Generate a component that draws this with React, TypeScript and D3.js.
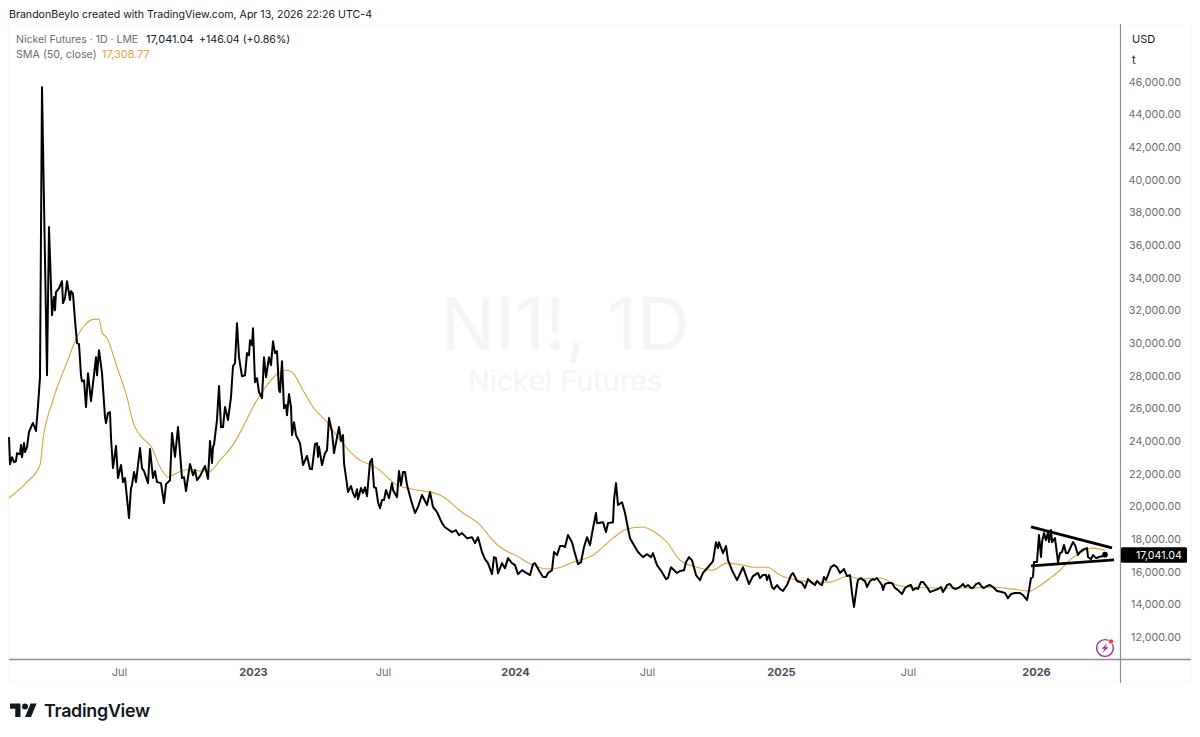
import { useEffect, useRef } from "react";
import * as d3 from "d3";

const WIDTH = 1200;
const HEIGHT = 737;

// x is the bar number (TradingView skips weekends, one session is about 1px here)
const closeBars = [
  0, 1, 3, 5, 7, 8, 11, 12, 13, 15, 16, 18, 20, 23, 24, 27, 29, 31, 33, 38, 40, 41, 43, 45, 46, 47, 50, 53, 54, 56, 58,
  61, 62, 64, 66, 68, 70, 72, 73, 75, 77, 79, 82, 87, 88, 90, 93, 96, 97, 99, 101, 102, 104, 107, 109, 112, 114, 116,
  120, 122, 123, 125, 127, 131, 133, 135, 139, 141, 144, 146, 148, 152, 155, 157, 161, 163, 166, 169, 173, 175, 177,
  181, 184, 186, 188, 191, 196, 199, 201, 203, 204, 205, 208, 210, 212, 214, 216, 219, 222, 224, 226, 228, 230, 233,
  236, 238, 240, 241, 243, 244, 246, 248, 250, 253, 255, 257, 260, 262, 264, 266, 268, 270, 271, 273, 275, 277, 278,
  280, 282, 283, 285, 287, 291, 294, 298, 301, 303, 306, 308, 309, 310, 313, 316, 318, 320, 323, 325, 330, 332, 334,
  335, 337, 339, 342, 344, 346, 348, 349, 352, 354, 356, 358, 361, 363, 365, 367, 369, 371, 373, 375, 377, 380, 383,
  384, 388, 390, 392, 394, 396, 398, 402, 406, 409, 413, 418, 421, 424, 428, 433, 436, 443, 447, 450, 453, 458, 463,
  466, 469, 473, 476, 479, 483, 485, 487, 489, 493, 496, 499, 503, 506, 509, 513, 516, 521, 524, 526, 531, 534, 537,
  539, 543, 545, 548, 551, 554, 556, 559, 563, 565, 569, 572, 575, 578, 581, 584, 587, 588, 594, 597, 599, 604, 605,
  607, 609, 613, 616, 619, 621, 625, 629, 634, 638, 642, 644, 648, 653, 657, 659, 662, 668, 671, 675, 677, 680, 683,
  687, 691, 694, 699, 704, 707, 709, 710, 714, 717, 719, 723, 728, 734, 740, 744, 749, 751, 754, 757, 758, 760, 763,
  765, 768, 771, 774, 778, 782, 784, 786, 788, 793, 796, 799, 803, 806, 808, 811, 813, 815, 817, 819, 822, 825, 828,
  831, 835, 838, 841, 843, 845, 848, 849, 852, 854, 856, 858, 861, 864, 865, 868, 870, 873, 874, 876, 879, 883, 886,
  889, 893, 896, 899, 902, 904, 907, 909, 912, 914, 918, 921, 924, 929, 932, 934, 936, 938, 941, 944, 947, 949, 952,
  954, 956, 959, 962, 964, 967, 970, 973, 975, 978, 981, 984, 988, 993, 996, 999, 1002, 1006, 1011, 1014, 1018, 1020,
  1022, 1024, 1025, 1028, 1030, 1032, 1033, 1035, 1037, 1039, 1040, 1042, 1043, 1046, 1049, 1051, 1053, 1055, 1057,
  1059, 1064, 1066, 1069, 1071, 1075, 1078, 1079, 1082, 1084, 1087, 1090, 1094, 1096,
];

const closes = [
  24240, 22580, 23010, 22700, 22760, 23250, 23190, 23750, 23010, 23870, 23320, 23620, 24550, 24980, 25100, 24610, 26150,
  27900, 45660, 28020, 37100, 35260, 31700, 32810, 32010, 33110, 33350, 33780, 32440, 32750, 33780, 32630, 33170, 33000,
  31400, 29990, 29930, 28020, 27650, 27710, 26080, 28150, 26440, 29130, 28020, 29560, 28150, 25460, 25090, 25710, 25770,
  24180, 22340, 23700, 21730, 22530, 21480, 21730, 19280, 21120, 21300, 22100, 21480, 23570, 22340, 22160, 21420, 23510,
  21730, 22160, 21480, 21420, 20200, 21360, 21600, 24490, 23020, 24850, 21730, 21790, 20930, 22590, 21910, 22220, 21600,
  21850, 22470, 21670, 24000, 22650, 23640, 23760, 25290, 27370, 24850, 24850, 26080, 25290, 26690, 28580, 28760, 31210,
  29130, 27960, 28020, 29380, 29250, 30170, 29860, 30900, 27590, 27840, 26990, 26620, 29130, 27900, 29130, 28640, 30100,
  29380, 29500, 27110, 26990, 28880, 26010, 26200, 25580, 26870, 26080, 24360, 25150, 24360, 23870, 22530, 23080, 22280,
  22280, 23810, 23870, 23020, 23640, 22530, 23260, 23440, 25400, 24550, 23260, 24850, 24000, 24360, 22650, 21790, 20870,
  21240, 20810, 20560, 21050, 20440, 21120, 20810, 21170, 20620, 22710, 22900, 21170, 21120, 20250, 19880, 20380, 20380,
  21000, 20500, 21420, 21000, 20560, 22160, 21300, 22100, 22100, 21300, 20380, 19590, 19960, 20690, 20080, 20870, 19960,
  19650, 18970, 18720, 18420, 18540, 18230, 18360, 18050, 18110, 17750, 18110, 17200, 16770, 16520, 15850, 16890, 16830,
  15900, 16520, 16210, 16830, 16520, 16400, 15850, 16090, 15970, 15790, 16460, 16520, 15970, 15670, 15670, 15920, 16090,
  17200, 17010, 17570, 17570, 17510, 18240, 17800, 17320, 16460, 16580, 17510, 18110, 17620, 18660, 19590, 18970, 19030,
  18420, 18970, 19030, 20380, 21420, 20080, 20250, 19590, 18660, 18050, 17620, 17200, 16890, 17070, 16890, 17130, 16400,
  15970, 15550, 15610, 16270, 15920, 16040, 16090, 16580, 16890, 16700, 15790, 15480, 15920, 16270, 16640, 17800, 17440,
  17800, 17130, 17570, 16700, 16090, 15480, 16270, 15240, 15730, 15920, 15610, 15790, 15790, 15490, 15790, 15060, 14940,
  15180, 14940, 14820, 15180, 15790, 15920, 15670, 15430, 15310, 15000, 15550, 15310, 15180, 15430, 15240, 15180, 15670,
  15490, 15790, 16280, 16400, 16280, 15920, 16160, 15730, 15790, 14690, 13840, 15180, 15490, 15610, 15490, 15430, 15060,
  15430, 15550, 15490, 15610, 15430, 15180, 14870, 15240, 15310, 15310, 15000, 14870, 14630, 15000, 15120, 15180, 14870,
  15000, 14940, 15370, 15370, 15060, 14750, 14820, 14940, 15060, 14750, 14940, 15180, 15240, 15000, 14940, 15000, 15120,
  15240, 15060, 15180, 15000, 15000, 15240, 15310, 15060, 15000, 15120, 15180, 15060, 14820, 14750, 14690, 14380, 14630,
  14690, 14690, 14570, 14260, 14870, 15610, 15670, 16590, 16590, 18240, 16900, 17810, 18360, 17930, 18420, 17810, 18550,
  17810, 18060, 16590, 17140, 17200, 17630, 17140, 17140, 17810, 17630, 17020, 17200, 17380, 17440, 16900, 16770, 17020,
  16830, 16900, 16960, 17041,
];

const smaBars = [
  0, 18, 31, 34, 44, 58, 68, 74, 86, 90, 93, 98, 108, 118, 124, 131, 143, 151, 159, 168, 181, 191, 201, 211, 224, 234,
  244, 258, 269, 278, 284, 294, 304, 318, 331, 348, 368, 388, 404, 431, 454, 471, 481, 491, 508, 524, 538, 548, 564,
  584, 604, 618, 633, 644, 658, 671, 688, 703, 718, 734, 744, 758, 771, 788, 808, 821, 839, 851, 871, 888, 904, 928,
  958, 984, 1004, 1021, 1029, 1040, 1049, 1063, 1073, 1081, 1091, 1096,
];

const smaValues = [
  20510, 21490, 22530, 24060, 26510, 28820, 30360, 30960, 31460, 31460, 30660, 30300, 28520, 26680, 25150, 24360, 23570,
  22410, 21790, 22040, 22280, 22160, 22160, 22830, 23760, 24850, 26080, 27420, 28150, 28330, 28150, 27110, 26080, 25150,
  24060, 22950, 22340, 21300, 21050, 20690, 19590, 18860, 18120, 17510, 16950, 16400, 16160, 16210, 16580, 17010, 18050,
  18610, 18730, 18490, 17800, 16700, 16270, 16090, 16520, 16400, 16270, 16270, 15790, 15480, 15360, 15360, 15730, 15550,
  15610, 15180, 15050, 15000, 15000, 15050, 14930, 14810, 15060, 15550, 15980, 16830, 17200, 17440, 17380, 17309,
];

const priceTicks = [
  12000, 14000, 16000, 18000, 20000, 22000, 24000, 26000, 28000, 30000, 32000, 34000, 36000, 38000, 40000, 42000, 44000,
  46000,
];

const timeTickBars = [110, 244, 374, 506, 638, 772, 899, 1027];
const timeTickLabels = ["Jul", "2023", "Jul", "2024", "Jul", "2025", "Jul", "2026"];

// the two hand drawn triangle lines, [bar, price]
const upperTrend: [number, number][] = [
  [1022, 18740],
  [1103, 17450],
];
const lowerTrend: [number, number][] = [
  [1022, 16350],
  [1105, 16720],
];

const lastClose = 17041.04;

export default function App() {
  const svgRef = useRef<SVGSVGElement>(null);

  useEffect(() => {
    if (!svgRef.current) return;

    const svg = d3.select(svgRef.current);
    svg.selectAll("*").remove();

    const font = "Inter, 'Liberation Sans', sans-serif";
    const grey = "#6a6d78";
    const gold = "#d4a63f";
    const axisColor = "#8f9196";

    const xScale = d3.scaleLinear().domain([0, 1111]).range([9, 1120]);
    const yScale = d3.scaleLinear().domain([12000, 46000]).range([637, 81.6]);

    const pane = svg.append("g").attr("font-family", font);

    pane
      .append("text")
      .attr("x", 9)
      .attr("y", 18)
      .attr("font-size", 10.6)
      .attr("fill", "#131722")
      .text("BrandonBeylo created with TradingView.com, Apr 13, 2026 22:26 UTC-4");

    pane
      .append("rect")
      .attr("x", 8.5)
      .attr("y", 24.5)
      .attr("width", 1183)
      .attr("height", 659)
      .attr("fill", "none")
      .attr("stroke", "#f8f8f8");

    // Watermark
    pane
      .append("text")
      .attr("x", 565)
      .attr("y", 350)
      .attr("text-anchor", "middle")
      .attr("font-size", 73)
      .attr("fill", "#f5f5f5")
      .text("NI1!, 1D");
    pane
      .append("text")
      .attr("x", 565)
      .attr("y", 391)
      .attr("text-anchor", "middle")
      .attr("font-size", 28.8)
      .attr("fill", "#f5f5f5")
      .text("Nickel Futures");

    // Legend
    const legend = pane.append("g");
    legend.append("text").attr("x", 16).attr("y", 42.5).attr("font-size", 10.5).attr("fill", grey).text("Nickel Futures · 1D · LME");
    legend.append("text").attr("x", 146).attr("y", 42.5).attr("font-size", 11).attr("fill", "#131722").text("17,041.04");
    legend.append("text").attr("x", 199).attr("y", 42.5).attr("font-size", 10.6).attr("fill", "#131722").text("+146.04 (+0.86%)");
    legend.append("text").attr("x", 16).attr("y", 57.5).attr("font-size", 10.7).attr("fill", grey).text("SMA (50, close)");
    legend.append("text").attr("x", 102).attr("y", 57.5).attr("font-size", 10.9).attr("fill", gold).text("17,308.77");

    // Lines
    const closeLine = d3
      .line<number>()
      .x((_, i) => xScale(closeBars[i]))
      .y((d) => yScale(d));
    const smaLine = d3
      .line<number>()
      .x((_, i) => xScale(smaBars[i]))
      .y((d) => yScale(d))
      .curve(d3.curveMonotoneX);
    const trendLine = d3
      .line<[number, number]>()
      .x((d) => xScale(d[0]))
      .y((d) => yScale(d[1]));

    pane
      .append("path")
      .attr("d", smaLine(smaValues))
      .attr("fill", "none")
      .attr("stroke", gold)
      .attr("stroke-width", 1.1);
    pane
      .append("path")
      .attr("d", closeLine(closes))
      .attr("fill", "none")
      .attr("stroke", "#000")
      .attr("stroke-width", 2)
      .attr("stroke-linejoin", "round");
    pane
      .append("circle")
      .attr("cx", xScale(closeBars[closeBars.length - 1]))
      .attr("cy", yScale(lastClose))
      .attr("r", 2.8)
      .attr("fill", "#000");

    [upperTrend, lowerTrend].forEach((t) => {
      pane
        .append("path")
        .attr("d", trendLine(t))
        .attr("stroke", "#000")
        .attr("stroke-width", 2.8)
        .attr("fill", "none");
    });

    // Price axis
    const priceAxis = pane
      .append("g")
      .attr("transform", "translate(1120,0)")
      .call(
        d3
          .axisRight(yScale)
          .tickValues(priceTicks)
          .tickSize(0)
          .tickFormat((d) => d3.format(",.2f")(d as number)),
      );
    priceAxis.select(".domain").remove();
    priceAxis
      .selectAll("text")
      .attr("x", 61)
      .attr("text-anchor", "end")
      .attr("font-family", font)
      .attr("font-size", 10.7)
      .attr("fill", grey);

    // Time axis
    const timeAxis = pane
      .append("g")
      .attr("transform", "translate(0,659)")
      .call(
        d3
          .axisBottom(xScale)
          .tickValues(timeTickBars)
          .tickSize(0)
          .tickFormat((_, i) => timeTickLabels[i]),
      );
    timeAxis.select(".domain").remove();
    timeAxis
      .selectAll("text")
      .attr("y", 9)
      .attr("dy", "0.71em")
      .attr("font-family", font)
      .attr("font-size", 11)
      .attr("fill", (_, i) => (i % 2 === 1 ? "#4a4d57" : grey))
      .attr("font-weight", (_, i) => (i % 2 === 1 ? 700 : 400));

    pane
      .append("line")
      .attr("x1", 9)
      .attr("x2", 1191)
      .attr("y1", 659.5)
      .attr("y2", 659.5)
      .attr("stroke", axisColor)
      .attr("stroke-width", 1.4);
    pane
      .append("line")
      .attr("x1", 1120.5)
      .attr("x2", 1120.5)
      .attr("y1", 24)
      .attr("y2", 683)
      .attr("stroke", axisColor)
      .attr("stroke-width", 1.2);

    // Unit labels
    pane.append("text").attr("x", 1132).attr("y", 42.5).attr("font-size", 11).attr("fill", "#131722").text("USD");
    pane.append("text").attr("x", 1132).attr("y", 64).attr("font-size", 11).attr("fill", "#131722").text("t");

    // Last price tag
    const tagY = yScale(lastClose);
    pane
      .append("rect")
      .attr("x", 1121)
      .attr("y", tagY - 7.5)
      .attr("width", 66)
      .attr("height", 15.5)
      .attr("rx", 1.5)
      .attr("fill", "#000");
    pane
      .append("text")
      .attr("x", 1182)
      .attr("y", tagY + 4.2)
      .attr("text-anchor", "end")
      .attr("font-size", 10.7)
      .attr("fill", "#fff")
      .text("17,041.04");

    // Lightning badge
    const badge = pane.append("g").attr("transform", "translate(1105,648)");
    badge
      .append("circle")
      .attr("r", 8.4)
      .attr("fill", "none")
      .attr("stroke", "#9c27b0")
      .attr("stroke-width", 1.4);
    badge.append("path").attr("d", "M2.5,-5 L-3.5,0.8 L-0.2,0.8 L-2.5,5 L3.5,-0.8 L0.2,-0.8 Z").attr("fill", "#9c27b0");
    badge
      .append("circle")
      .attr("cx", 6)
      .attr("cy", -6.5)
      .attr("r", 2.6)
      .attr("fill", "#f23645")
      .attr("stroke", "#fff")
      .attr("stroke-width", 0.8);

    // TradingView logo
    const logo = svg.append("g").attr("transform", "translate(10,700.5) scale(0.75)").attr("fill", "#131722");
    logo.append("path").attr("d", "M14 22H7V11H0V4h14v18zM28 22h-8l7.5-18h8L28 22z");
    logo.append("circle").attr("cx", 20).attr("cy", 8).attr("r", 4);
    svg
      .append("text")
      .attr("x", 44)
      .attr("y", 716.5)
      .attr("font-family", font)
      .attr("font-size", 17.9)
      .attr("font-weight", 600)
      .attr("letter-spacing", -0.3)
      .attr("fill", "#131722")
      .text("TradingView");
  }, []);

  return (
    <svg
      ref={svgRef}
      width={WIDTH}
      height={HEIGHT}
      style={{ position: "absolute", left: 0, top: 0, background: "#fff", display: "block" }}
    />
  );
}
